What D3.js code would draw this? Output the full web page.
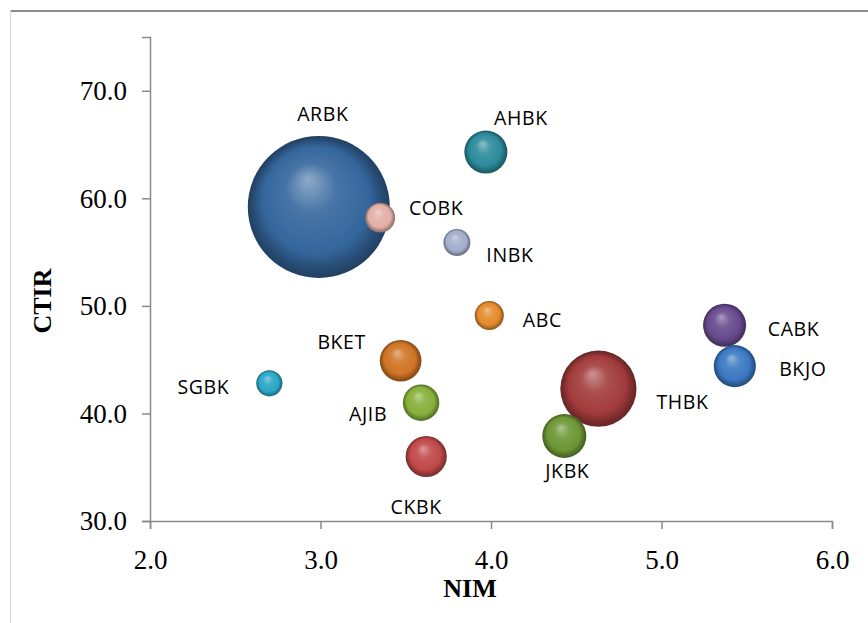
<!DOCTYPE html>
<html>
<head>
<meta charset="utf-8">
<script src="https://cdn.jsdelivr.net/npm/d3@7"></script>
<style>
  body { margin: 0; background: #fff; }
  svg { display: block; }
  .tick text { font-family: "Liberation Serif", "Times New Roman", serif; font-size: 27px; fill: #000; }
  .lbl { font-family: "Open Sans", "Noto Sans", sans-serif; font-size: 19.5px; fill: #000; letter-spacing: 0.6px; }
  .title { font-family: "Liberation Serif", "Times New Roman", serif; font-size: 26px; font-weight: bold; fill: #000; }
</style>
</head>
<body>
<script>
  'use strict';

  // bank codes, NIM (x), CTIR (y), bubble size
  const banks = ['ARBK', 'AHBK', 'COBK', 'INBK', 'ABC', 'CABK', 'BKJO', 'BKET', 'SGBK', 'AJIB', 'THBK', 'JKBK', 'CKBK']
  const nim   = [2.99, 3.97, 3.35, 3.80, 3.99, 5.37, 5.43, 3.47, 2.70, 3.59, 4.63, 4.43, 3.62]
  const ctir  = [59.2, 64.3, 58.2, 55.9, 49.1, 48.2, 44.4, 44.9, 42.8, 41.0, 42.3, 37.9, 36.0]
  const size  = [25.0, 2.30, 1.10, 0.90, 1.05, 2.30, 2.20, 2.15, 0.85, 1.65, 7.20, 2.40, 2.10]

  const xTicks = [2, 3, 4, 5, 6]
  const yTicks = [30, 40, 50, 60, 70]

  // sphere colours, one per bank
  const colors = ['#34669c', '#2b8a9b', '#e2b0a6', '#a3aecb', '#e48a2c', '#674a8e', '#3a78c2',
                  '#cf7424', '#2aa6c6', '#86b03a', '#a23b3b', '#6c9634', '#c04848']

  // manual label offsets (px from bubble centre: text centre x, baseline y)
  const labelDx = [4, 35, 56, 53, 53, 69, 68, -59, -66, -53, 84, 3, -10]
  const labelDy = [-86, -27, -3, 20, 11, 11, 10, -12, 11, 18, 20, 42, 58]

  const width = 868, height = 623
  const margin = { left: 150, right: 36, top: 37, bottom: 102 }

  const svg = d3.select('body').append('svg')
      .attr('width', width)
      .attr('height', height)

  // outer frame (only top and left edges are inside the picture)
  svg.append('line').attr('x1', 10).attr('x2', width).attr('y1', 11).attr('y2', 11)
      .attr('stroke', '#8c8c8c').attr('stroke-width', 2)
  svg.append('line').attr('x1', 10.5).attr('x2', 10.5).attr('y1', 10).attr('y2', height)
      .attr('stroke', '#d4d4d4').attr('stroke-width', 1)

  const x = d3.scaleLinear().domain([2, 6]).range([margin.left, width - margin.right])
  const y = d3.scaleLinear().domain([30, 75]).range([height - margin.bottom, margin.top])
  const r = d3.scaleSqrt().domain([0, 25]).range([0, 71])

  const fmt = d3.format('.1f')

  const xAxis = svg.append('g')
      .attr('transform', 'translate(0,' + y(30) + ')')
      .call(d3.axisBottom(x).tickValues(xTicks).tickFormat(fmt).tickSize(8).tickPadding(14))
  const yAxis = svg.append('g')
      .attr('transform', 'translate(' + x(2) + ',0)')
      .call(d3.axisLeft(y).tickValues(yTicks).tickFormat(fmt).tickSize(8).tickPadding(15))

  ;[xAxis, yAxis].forEach(g => {
    g.select('.domain').attr('stroke', '#8a8a8a').attr('stroke-width', 1.5)
    g.selectAll('.tick line').attr('stroke', '#8a8a8a').attr('stroke-width', 1.5)
  })
  xAxis.selectAll('.tick text').attr('dy', '0.95em')
  yAxis.selectAll('.tick text').attr('dy', '0.33em')

  svg.append('text').attr('class', 'title')
      .attr('x', 470).attr('y', 597)
      .attr('text-anchor', 'middle')
      .text('NIM')
  svg.append('text').attr('class', 'title')
      .attr('transform', 'translate(51,301) rotate(-90)')
      .attr('text-anchor', 'middle')
      .text('CTIR')

  // 3D sphere look with radial gradients
  const defs = svg.append('defs')
  colors.forEach((c, i) => {
    const g = defs.append('radialGradient')
        .attr('id', 'sph' + i)
        .attr('cx', '50%').attr('cy', '50%').attr('r', '50%')
        .attr('fx', '42%').attr('fy', '30%')
    g.append('stop').attr('offset', '0%').attr('stop-color', d3.interpolateRgb(c, '#ffffff')(0.45))
    g.append('stop').attr('offset', '35%').attr('stop-color', d3.interpolateRgb(c, '#ffffff')(0.1))
    g.append('stop').attr('offset', '75%').attr('stop-color', c)
    g.append('stop').attr('offset', '92%').attr('stop-color', d3.color(c).darker(0.9))
    g.append('stop').attr('offset', '100%').attr('stop-color', d3.color(c).darker(1.3))
  })

  const data = banks.map((b, i) => ({ i, b, x: nim[i], y: ctir[i], s: size[i] }))
  const order = data.slice().sort((a, b) => b.s - a.s)

  svg.append('g').selectAll('circle')
      .data(order)
      .join('circle')
      .attr('cx', d => x(d.x))
      .attr('cy', d => y(d.y))
      .attr('r', d => r(d.s))
      .attr('fill', d => 'url(#sph' + d.i + ')')

  svg.append('g').selectAll('text')
      .data(data)
      .join('text')
      .attr('class', 'lbl')
      .attr('text-anchor', 'middle')
      .attr('x', d => x(d.x) + labelDx[d.i])
      .attr('y', d => y(d.y) + labelDy[d.i])
      .text(d => d.b)
</script>
</body>
</html>
